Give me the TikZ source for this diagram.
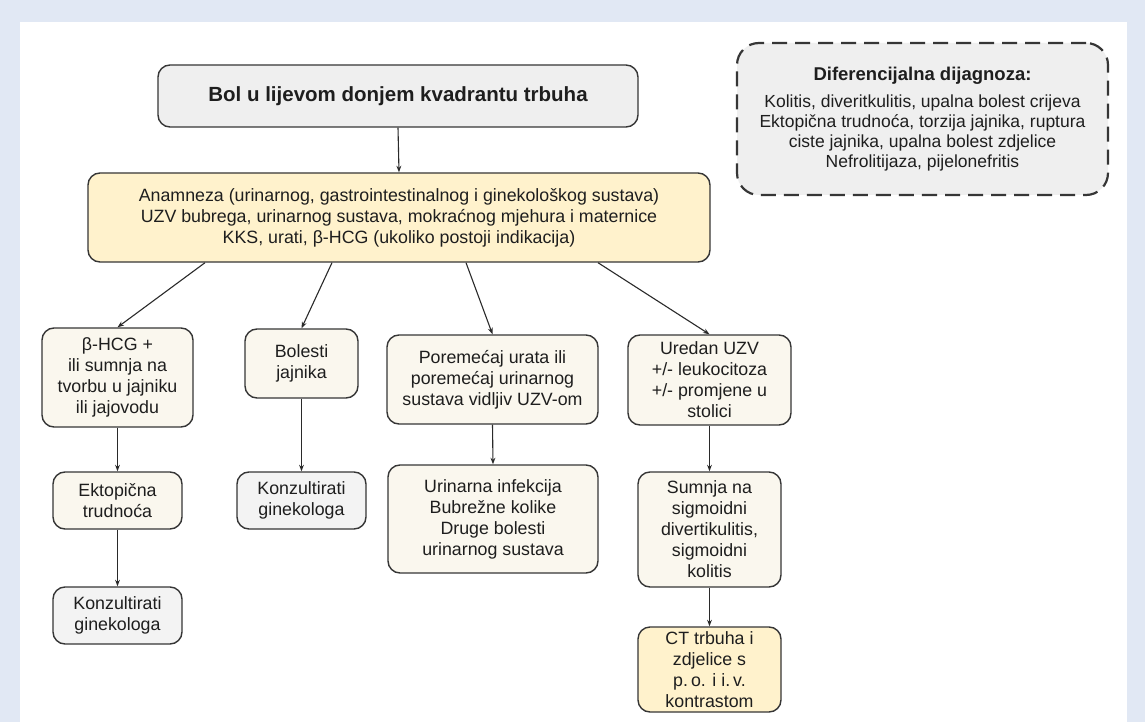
\documentclass[tikz,border=0pt]{standalone}
\usepackage{fontspec}
\setmainfont{Liberation Sans}
\usetikzlibrary{arrows.meta}
\definecolor{bgblue}{HTML}{E1E8F4}
\definecolor{boxgray}{HTML}{EFEFEF}
\definecolor{lightgray}{HTML}{F3F3F3}
\definecolor{boxyellow}{HTML}{FFF2CC}
\definecolor{boxcream}{HTML}{FAF7EE}
\definecolor{edgecol}{HTML}{363636}
\definecolor{arrcol}{HTML}{2A2A2A}
\definecolor{txtcol}{HTML}{1E1E1E}
\tikzset{
  flowbox/.style={draw=edgecol, line width=1.4pt, rounded corners=12pt, align=center,
    inner sep=0pt, font=\fontsize{17.8}{21}\selectfont, text=txtcol},
  arr/.style={draw=arrcol, line width=1.1pt, -{Stealth[length=6.5pt,width=4.8pt]}},
}
\begin{document}
\begin{tikzpicture}[x=1pt,y=-1pt]
\useasboundingbox (0,0) rectangle (1145,722);
\fill[bgblue] (0,0) rectangle (1145,722);
\fill[white] (20,22) rectangle (1127,722);

\node[flowbox, fill=boxgray, minimum width=480pt, minimum height=62pt,
  font=\fontsize{20.5}{24}\selectfont\bfseries] (top) at (398,96)
  {Bol u lijevom donjem kvadrantu trbuha};

\node[flowbox, fill=boxyellow, minimum width=622pt, minimum height=89pt] (anam) at (399,217.5)
  {Anamneza (urinarnog, gastrointestinalnog i ginekološkog sustava)\\
   UZV bubrega, urinarnog sustava, mokraćnog mjehura i maternice\\
   KKS, urati, β-HCG (ukoliko postoji indikacija)};

\node[flowbox, fill=boxgray, dashed, dash pattern=on 15pt off 8pt, line width=2.2pt,
  rounded corners=22pt, minimum width=371pt, minimum height=152pt,
  font=\fontsize{17.5}{20}\selectfont] (diff) at (922.5,119)
  {{\bfseries\fontsize{18.5}{20}\selectfont Diferencijalna dijagnoza:}\\[7pt]
   Kolitis, diveritkulitis, upalna bolest crijeva\\
   Ektopična trudnoća, torzija jajnika, ruptura\\
   ciste jajnika, upalna bolest zdjelice\\
   Nefrolitijaza, pijelonefritis};

\node[flowbox, fill=boxcream, minimum width=151pt, minimum height=99pt] (a) at (117.5,377.5)
  {β-HCG +\\ ili sumnja na\\ tvorbu u jajniku\\ ili jajovodu};
\node[flowbox, fill=boxcream, minimum width=113pt, minimum height=69pt] (b) at (301.5,363.5)
  {Bolesti\\ jajnika};
\node[flowbox, fill=boxcream, minimum width=211pt, minimum height=89pt] (c) at (492.5,379.5)
  {Poremećaj urata ili\\ poremećaj urinarnog\\ sustava vidljiv UZV-om};
\node[flowbox, fill=boxcream, minimum width=163pt, minimum height=90pt] (d) at (709.5,380)
  {Uredan UZV\\ +/- leukocitoza\\ +/- promjene u\\ stolici};

\node[flowbox, fill=boxcream, minimum width=129pt, minimum height=57pt] (ekt) at (117.5,500.5)
  {Ektopična\\ trudnoća};
\node[flowbox, fill=lightgray, minimum width=129pt, minimum height=57pt] (konzb) at (301.5,500.5)
  {Konzultirati\\ ginekologa};
\node[flowbox, fill=boxcream, minimum width=210pt, minimum height=108pt] (urin) at (493,519)
  {Urinarna infekcija\\ Bubrežne kolike\\ Druge bolesti\\ urinarnog sustava};
\node[flowbox, fill=boxcream, minimum width=143pt, minimum height=115pt] (sumnja) at (709.5,529.5)
  {Sumnja na\\ sigmoidni\\ divertikulitis,\\ sigmoidni\\ kolitis};
\node[flowbox, fill=lightgray, minimum width=129pt, minimum height=57pt] (konza) at (117.5,615.5)
  {Konzultirati\\ ginekologa};
\node[flowbox, fill=boxyellow, minimum width=143pt, minimum height=85pt] (ct) at (709.5,669.5)
  {CT trbuha i\\ zdjelice s\\ p.\,o. i i.\,v.\\ kontrastom};

\draw[arr] (top.south) -- (anam.north);
\draw[arr] ([xshift=-194pt]anam.south) -- (a.north);
\draw[arr] ([xshift=-67pt]anam.south) -- (b.north);
\draw[arr] ([xshift=67pt]anam.south) -- (c.north);
\draw[arr] ([xshift=199pt]anam.south) -- (d.north);
\draw[arr] (a.south) -- (ekt.north);
\draw[arr] (b.south) -- (konzb.north);
\draw[arr] (c.south) -- (urin.north);
\draw[arr] (d.south) -- (sumnja.north);
\draw[arr] (ekt.south) -- (konza.north);
\draw[arr] (sumnja.south) -- (ct.north);
\end{tikzpicture}
\end{document}
